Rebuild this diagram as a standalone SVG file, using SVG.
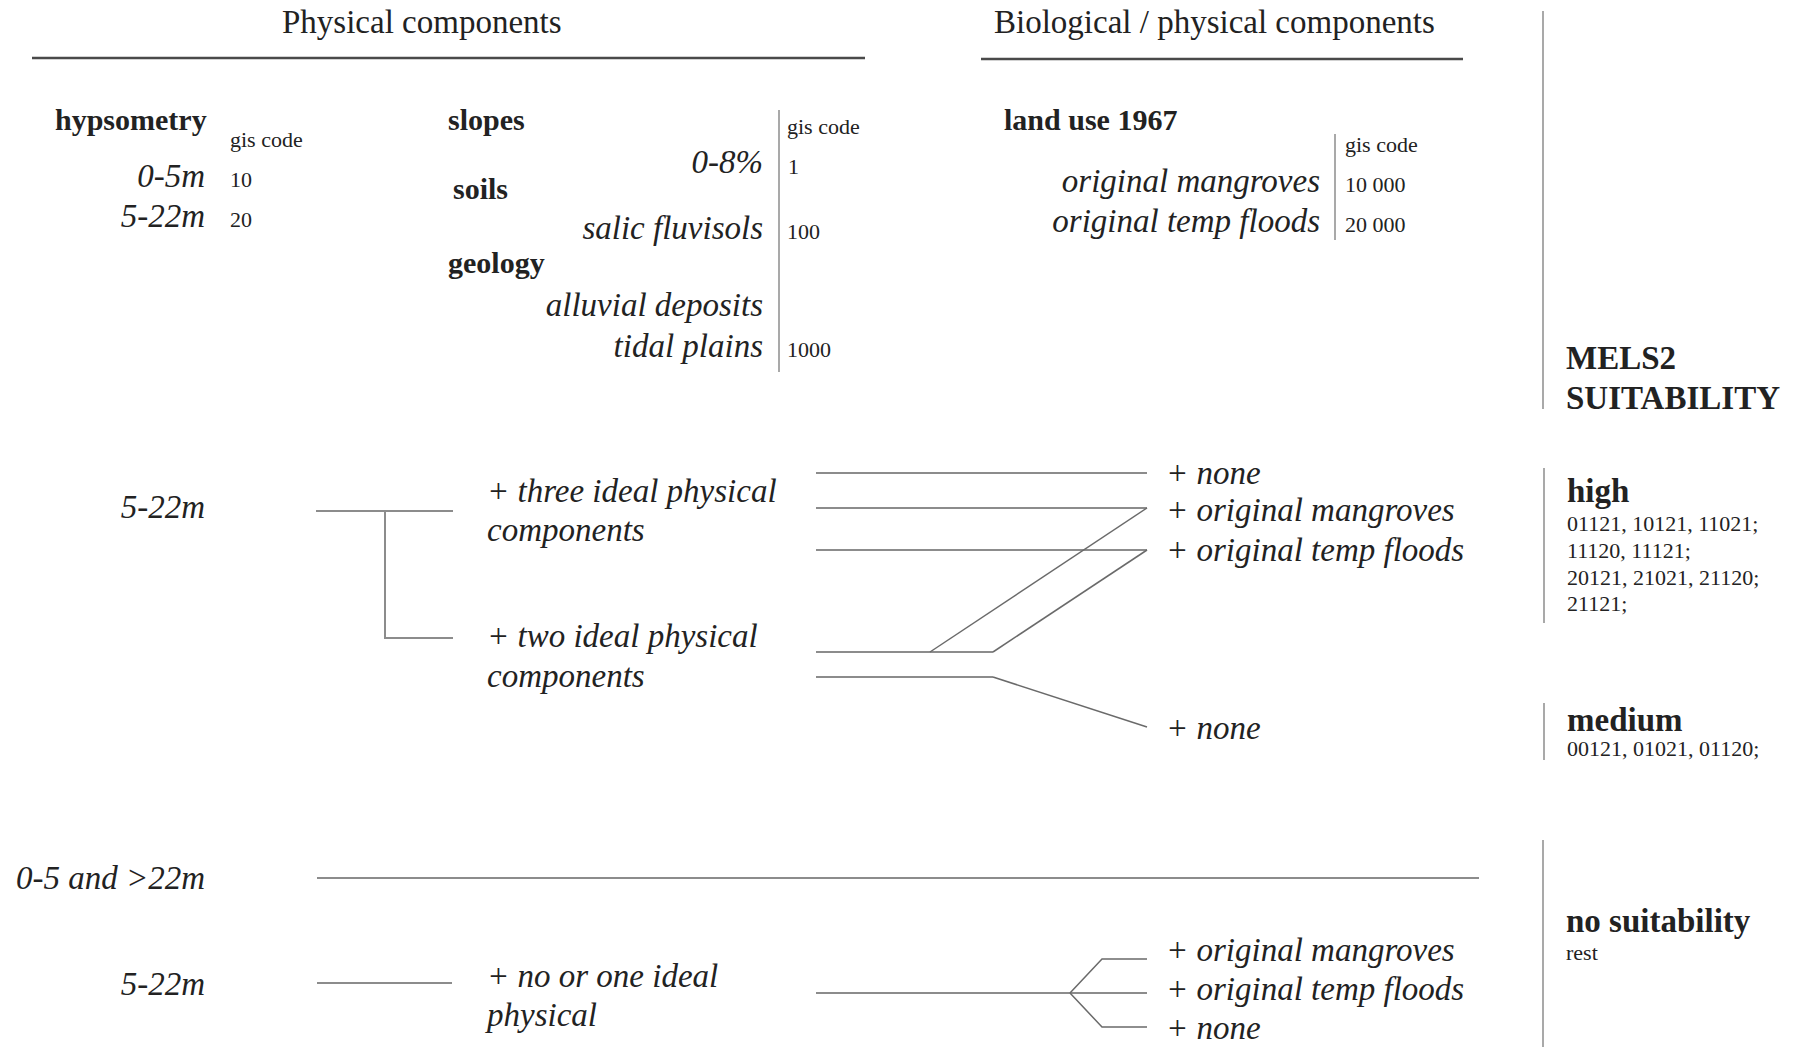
<svg xmlns="http://www.w3.org/2000/svg" width="1808" height="1047" viewBox="0 0 1808 1047">
<style>
text{font-family:"Liberation Serif","Times New Roman",serif;fill:#222}
.it{font-style:italic;font-size:33px}
.lb{font-weight:bold;font-size:30px}
.sb{font-weight:bold;font-size:33px}
.sm{font-size:22px}
.hd{font-size:33px}
.e{text-anchor:end}
.ln{stroke:#8c8c8c;stroke-width:2;fill:none}
.dg{stroke:#6a6a6a;stroke-width:1.5;fill:none}
.hl{stroke:#4a4a4a;stroke-width:2.5;fill:none}
.vl{stroke:#8c8c8c;stroke-width:1.5;fill:none}
</style>
<rect width="1808" height="1047" fill="#fff"/>

<g id="header-physical">
<text class="hd" x="282" y="33">Physical components</text>
<line class="hl" x1="32" y1="58" x2="865" y2="58"/>
</g>
<g id="header-biological">
<text class="hd" x="994" y="33">Biological / physical components</text>
<line class="hl" x1="981" y1="59" x2="1463" y2="59"/>
</g>
<g id="mels2">
<line class="vl" x1="1543" y1="11" x2="1543" y2="409"/>
<text class="sb" x="1566" y="369">MELS2</text>
<text class="sb" x="1566" y="409">SUITABILITY</text>
</g>

<g id="legend-hypsometry">
<text class="lb" x="55" y="130">hypsometry</text>
<text class="sm" x="230" y="147">gis code</text>
<text class="it e" x="205" y="187">0-5m</text>
<text class="sm" x="230" y="187">10</text>
<text class="it e" x="205" y="227">5-22m</text>
<text class="sm" x="230" y="227">20</text>
</g>

<g id="legend-slopes-soils-geology">
<line class="vl" x1="779" y1="110" x2="779" y2="372"/>
<text class="lb" x="448" y="130">slopes</text>
<text class="sm" x="787" y="134">gis code</text>
<text class="it e" x="763" y="173">0-8%</text>
<text class="sm" x="788" y="174">1</text>
<text class="lb" x="453" y="199">soils</text>
<text class="it e" x="763" y="239">salic fluvisols</text>
<text class="sm" x="787" y="239">100</text>
<text class="lb" x="448" y="273">geology</text>
<text class="it e" x="763" y="316">alluvial deposits</text>
<text class="it e" x="763" y="357">tidal plains</text>
<text class="sm" x="787" y="357">1000</text>
</g>

<g id="legend-landuse">
<text class="lb" x="1004" y="130">land use 1967</text>
<line class="vl" x1="1335" y1="134" x2="1335" y2="240"/>
<text class="sm" x="1345" y="152">gis code</text>
<text class="it e" x="1320" y="192">original mangroves</text>
<text class="sm" x="1345" y="192">10 000</text>
<text class="it e" x="1320" y="232">original temp floods</text>
<text class="sm" x="1345" y="232">20 000</text>
</g>

<g id="node-5-22m-a"><text class="it e" x="205" y="518">5-22m</text></g>
<g id="node-three"><text class="it" x="487" y="502">+ three ideal physical</text><text class="it" x="487" y="541">components</text></g>
<g id="node-two"><text class="it" x="487" y="647">+ two ideal physical</text><text class="it" x="487" y="687">components</text></g>
<g id="node-none-1"><text class="it" x="1166" y="484">+ none</text></g>
<g id="node-mangroves-1"><text class="it" x="1166" y="521">+ original mangroves</text></g>
<g id="node-floods-1"><text class="it" x="1166" y="561">+ original temp floods</text></g>
<g id="node-none-2"><text class="it" x="1166" y="739">+ none</text></g>

<g id="suit-high">
<line class="vl" x1="1544" y1="468" x2="1544" y2="623"/>
<text class="sb" x="1567" y="502">high</text>
<text class="sm" x="1567" y="531">01121, 10121, 11021;</text>
<text class="sm" x="1567" y="558">11120, 11121;</text>
<text class="sm" x="1567" y="585">20121, 21021, 21120;</text>
<text class="sm" x="1567" y="611">21121;</text>
</g>
<g id="suit-medium">
<line class="vl" x1="1544" y1="703" x2="1544" y2="760"/>
<text class="sb" x="1567" y="731">medium</text>
<text class="sm" x="1567" y="756">00121, 01021, 01120;</text>
</g>

<g id="node-0-5-22m"><text class="it e" x="205" y="889">0-5 and &gt;22m</text></g>
<g id="node-5-22m-b"><text class="it e" x="205" y="995">5-22m</text></g>
<g id="node-noone"><text class="it" x="487" y="987">+ no or one ideal</text><text class="it" x="487" y="1026">physical</text></g>
<g id="node-mangroves-2"><text class="it" x="1166" y="961">+ original mangroves</text></g>
<g id="node-floods-2"><text class="it" x="1166" y="1000">+ original temp floods</text></g>
<g id="node-none-3"><text class="it" x="1166" y="1039">+ none</text></g>

<g id="suit-none">
<line class="vl" x1="1543" y1="840" x2="1543" y2="1047"/>
<text class="sb" x="1566" y="932">no suitability</text>
<text class="sm" x="1566" y="960">rest</text>
</g>

<g id="connectors">
<line class="ln" x1="316" y1="511" x2="453" y2="511"/>
<polyline class="ln" points="385,511 385,638 453,638"/>
<line class="ln" x1="816" y1="473" x2="1147" y2="473"/>
<line class="ln" x1="816" y1="508" x2="1147" y2="508"/>
<line class="ln" x1="816" y1="550" x2="1147" y2="550"/>
<line class="ln" x1="816" y1="652" x2="993" y2="652"/>
<line class="dg" x1="930" y1="652" x2="1147" y2="508"/>
<line class="dg" x1="993" y1="652" x2="1147" y2="550"/>
<polyline class="ln" points="816,677 993,677"/>
<line class="dg" x1="993" y1="677" x2="1147" y2="727"/>
<line class="ln" x1="317" y1="878" x2="1479" y2="878"/>
<line class="ln" x1="317" y1="983" x2="452" y2="983"/>
<line class="ln" x1="816" y1="993" x2="1147" y2="993"/>
<polyline class="dg" points="1070,993 1102,959 1147,959"/>
<polyline class="dg" points="1070,993 1102,1027 1147,1027"/>
</g>
</svg>
